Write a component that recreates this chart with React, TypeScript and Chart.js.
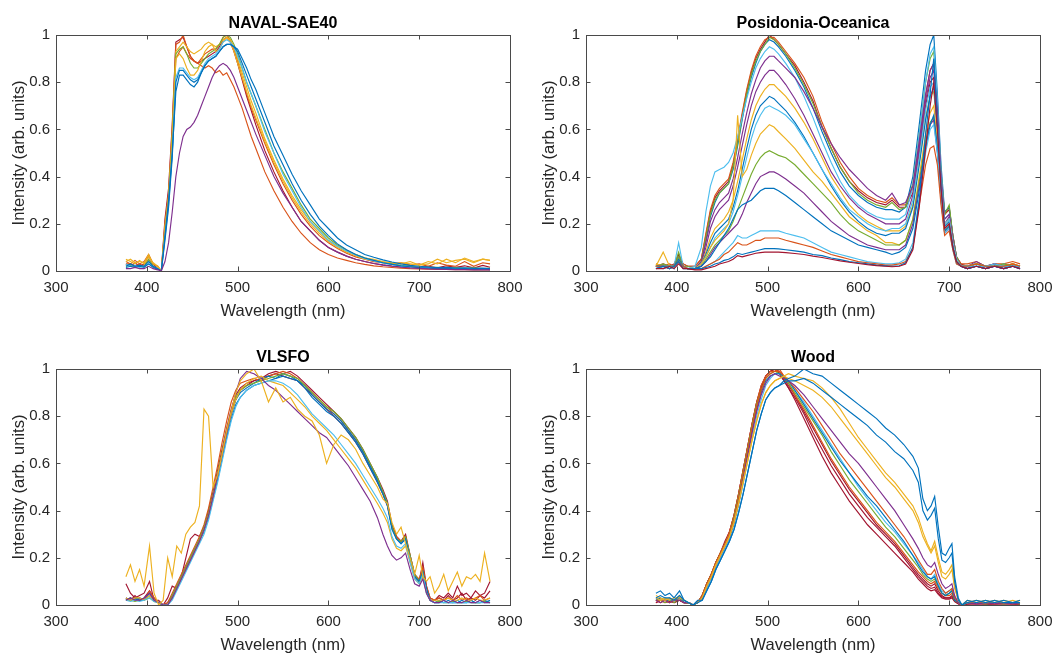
import React, { useEffect, useRef } from "react";
import { Chart, registerables } from "chart.js";

Chart.register(...registerables);

const BLUE = "#0072BD";
const ORANGE = "#D95319";
const YELLOW = "#EDB120";
const PURPLE = "#7E2F8E";
const GREEN = "#77AC30";
const CYAN = "#4DBEEE";
const RED = "#A2142F";

const X_TICKS = [300, 400, 500, 600, 700, 800];
const Y_TICKS = [0, 0.2, 0.4, 0.6, 0.8, 1];
const X_LABEL = "Wavelength (nm)";
const Y_LABEL = "Intensity (arb. units)";
const TITLES = ["NAVAL-SAE40", "Posidonia-Oceanica", "VLSFO", "Wood"];

// ---------------- NAVAL-SAE40 ----------------
const NAVAL_WL = [
  377, 382, 387, 392, 397, 402, 407, 412, 416, 420,
  424, 428, 432, 436, 440, 444, 448, 452, 456, 460,
  464, 468, 472, 476, 480, 484, 488, 492, 496, 500,
  505, 510, 515, 520, 530, 540, 550, 560, 570, 580,
  590, 600, 610, 620, 630, 640, 650, 660, 670, 680,
  690, 700, 710, 720, 730, 740, 750, 760, 770, 778];
const NAVAL_1 = [
  0.02, 0.03, 0.02, 0.025, 0.02, 0.04, 0.02, 0.01, 0.0, 0.15,
  0.3, 0.5, 0.76, 0.83, 0.83, 0.81, 0.79, 0.78, 0.8, 0.84,
  0.87, 0.89, 0.9, 0.91, 0.93, 0.95, 0.96, 0.96, 0.95, 0.93,
  0.88, 0.83, 0.78, 0.73, 0.63, 0.53, 0.45, 0.37, 0.3, 0.24,
  0.19, 0.15, 0.115, 0.09, 0.07, 0.055, 0.045, 0.035, 0.028, 0.022,
  0.018, 0.014, 0.012, 0.01, 0.012, 0.008, 0.01, 0.007, 0.009, 0.006];
const NAVAL_2 = [
  0.04, 0.03, 0.045, 0.03, 0.04, 0.07, 0.03, 0.02, 0.0, 0.2,
  0.33, 0.6, 0.96, 0.97, 1.0, 0.95, 0.91, 0.89, 0.88, 0.9,
  0.92, 0.93, 0.94, 0.94, 0.96, 0.99, 1.0, 0.98, 0.94, 0.89,
  0.82, 0.75, 0.69, 0.64, 0.54, 0.45, 0.37, 0.3, 0.24, 0.19,
  0.15, 0.12, 0.095, 0.075, 0.06, 0.05, 0.04, 0.035, 0.03, 0.035,
  0.025, 0.03, 0.02, 0.035, 0.025, 0.02, 0.04, 0.02, 0.035, 0.03];
const NAVAL_3 = [
  0.05, 0.04, 0.03, 0.045, 0.03, 0.06, 0.035, 0.02, 0.0, 0.18,
  0.3, 0.55, 0.9, 0.92, 0.9, 0.86, 0.83, 0.83, 0.85, 0.89,
  0.93, 0.95, 0.96, 0.93, 0.94, 0.97, 0.99, 0.98, 0.95, 0.9,
  0.84, 0.78, 0.72, 0.67, 0.56, 0.47, 0.39, 0.32, 0.26, 0.21,
  0.17, 0.13, 0.105, 0.085, 0.07, 0.055, 0.05, 0.04, 0.035, 0.03,
  0.04, 0.025, 0.03, 0.05, 0.035, 0.045, 0.05, 0.035, 0.05, 0.045];
const NAVAL_4 = [
  0.01, 0.01, 0.015, 0.01, 0.01, 0.02, 0.01, 0.005, 0.0, 0.04,
  0.12, 0.25, 0.4, 0.5, 0.57, 0.6, 0.61, 0.63, 0.66, 0.7,
  0.74, 0.78, 0.82, 0.85, 0.87, 0.88, 0.87, 0.85, 0.82, 0.78,
  0.73, 0.68, 0.63, 0.58, 0.49, 0.4, 0.33, 0.27, 0.21, 0.17,
  0.13, 0.1, 0.08, 0.063, 0.05, 0.04, 0.032, 0.025, 0.02, 0.016,
  0.013, 0.011, 0.009, 0.008, 0.007, 0.006, 0.006, 0.005, 0.005, 0.005];
const NAVAL_5 = [
  0.02, 0.025, 0.015, 0.02, 0.02, 0.05, 0.02, 0.01, 0.0, 0.17,
  0.31, 0.56, 0.92, 0.94, 0.95, 0.92, 0.88, 0.86, 0.86, 0.88,
  0.9, 0.92, 0.93, 0.94, 0.96, 0.99, 1.0, 0.99, 0.96, 0.92,
  0.86, 0.8, 0.75, 0.7, 0.6, 0.5, 0.42, 0.35, 0.28, 0.22,
  0.18, 0.14, 0.11, 0.088, 0.07, 0.056, 0.045, 0.036, 0.03, 0.024,
  0.02, 0.017, 0.015, 0.016, 0.012, 0.014, 0.011, 0.013, 0.01, 0.011];
const NAVAL_6 = [
  0.03, 0.02, 0.025, 0.015, 0.02, 0.03, 0.02, 0.01, 0.0, 0.14,
  0.28, 0.5, 0.82, 0.86, 0.86, 0.84, 0.82, 0.81, 0.82, 0.85,
  0.88, 0.9, 0.91, 0.92, 0.94, 0.97, 0.98, 0.97, 0.95, 0.91,
  0.86, 0.8, 0.75, 0.7, 0.59, 0.5, 0.41, 0.34, 0.27, 0.21,
  0.17, 0.13, 0.105, 0.085, 0.068, 0.053, 0.043, 0.034, 0.027, 0.022,
  0.017, 0.014, 0.016, 0.011, 0.013, 0.01, 0.009, 0.011, 0.008, 0.009];
const NAVAL_7 = [
  0.03, 0.02, 0.035, 0.02, 0.03, 0.065, 0.03, 0.01, 0.0, 0.22,
  0.35, 0.62, 0.97, 0.98, 0.99, 0.95, 0.91, 0.89, 0.88, 0.89,
  0.9, 0.91, 0.92, 0.93, 0.95, 0.98, 0.99, 0.97, 0.93, 0.88,
  0.81, 0.74, 0.68, 0.62, 0.51, 0.42, 0.34, 0.27, 0.21, 0.17,
  0.13, 0.1, 0.08, 0.063, 0.05, 0.04, 0.032, 0.026, 0.021, 0.017,
  0.022, 0.014, 0.02, 0.013, 0.022, 0.016, 0.022, 0.013, 0.024, 0.016];
const NAVAL_8 = [
  0.03, 0.03, 0.02, 0.03, 0.02, 0.05, 0.02, 0.01, 0.0, 0.18,
  0.3, 0.55, 0.9, 0.93, 0.95, 0.92, 0.9, 0.89, 0.88, 0.87,
  0.86, 0.87, 0.86, 0.84, 0.85, 0.83, 0.84, 0.81, 0.78, 0.74,
  0.69, 0.63, 0.57, 0.52, 0.42, 0.34, 0.27, 0.21, 0.16, 0.12,
  0.09, 0.07, 0.055, 0.045, 0.035, 0.028, 0.022, 0.018, 0.015, 0.012,
  0.01, 0.009, 0.008, 0.007, 0.007, 0.006, 0.006, 0.005, 0.005, 0.005];
const NAVAL_9 = [
  0.015, 0.02, 0.015, 0.02, 0.015, 0.03, 0.015, 0.008, 0.0, 0.13,
  0.27, 0.48, 0.8, 0.85, 0.85, 0.83, 0.81, 0.8, 0.81, 0.84,
  0.87, 0.89, 0.9, 0.91, 0.93, 0.95, 0.96, 0.96, 0.95, 0.94,
  0.9, 0.86, 0.81, 0.77, 0.67, 0.57, 0.49, 0.41, 0.34, 0.28,
  0.22, 0.18, 0.14, 0.11, 0.09, 0.07, 0.058, 0.047, 0.038, 0.03,
  0.024, 0.02, 0.017, 0.014, 0.016, 0.012, 0.013, 0.011, 0.012, 0.01];
const NAVAL_10 = [
  0.04, 0.05, 0.035, 0.04, 0.035, 0.07, 0.03, 0.02, 0.0, 0.19,
  0.32, 0.58, 0.93, 0.95, 0.97, 0.95, 0.93, 0.92, 0.93, 0.94,
  0.96, 0.97, 0.96, 0.95, 0.96, 0.98, 0.99, 0.97, 0.93, 0.88,
  0.82, 0.76, 0.7, 0.65, 0.55, 0.46, 0.38, 0.31, 0.25, 0.2,
  0.16, 0.125, 0.1, 0.08, 0.065, 0.05, 0.045, 0.038, 0.03, 0.035,
  0.03, 0.025, 0.04, 0.03, 0.05, 0.035, 0.055, 0.04, 0.05, 0.045];

// ---------------- Posidonia-Oceanica ----------------
const POS_WL = [
  377, 385, 392, 397, 402, 407, 412, 420, 427, 432,
  437, 442, 447, 452, 457, 462, 467, 472, 477, 482,
  487, 492, 497, 502, 507, 512, 520, 530, 540, 550,
  560, 570, 580, 590, 600, 610, 620, 630, 637, 645,
  652, 660, 667, 674, 679, 683, 687, 691, 695, 700,
  704, 708, 713, 720, 730, 740, 750, 760, 770, 778];
const POS_1 = [
  0.02, 0.03, 0.02, 0.03, 0.07, 0.03, 0.02, 0.02, 0.05, 0.15,
  0.25, 0.31, 0.34, 0.36, 0.38, 0.45, 0.55, 0.66, 0.76, 0.84,
  0.9, 0.94, 0.97, 1.0, 0.98, 0.96, 0.92, 0.87, 0.8, 0.72,
  0.61, 0.52, 0.44, 0.38, 0.34, 0.31, 0.29, 0.28, 0.3, 0.27,
  0.27, 0.33, 0.5, 0.7, 0.8, 0.82, 0.65, 0.4, 0.24, 0.26,
  0.15, 0.06, 0.03, 0.02, 0.03, 0.02, 0.03, 0.02, 0.03, 0.02];
const POS_2 = [
  0.01, 0.02, 0.01, 0.02, 0.05, 0.02, 0.01, 0.01, 0.04, 0.13,
  0.23, 0.29, 0.33, 0.35, 0.37, 0.43, 0.53, 0.64, 0.74, 0.82,
  0.88, 0.93, 0.96, 0.98, 0.97, 0.95, 0.91, 0.85, 0.78, 0.69,
  0.59, 0.5, 0.42, 0.36, 0.32, 0.29, 0.27, 0.26, 0.26, 0.25,
  0.27, 0.4, 0.62, 0.85, 0.96, 1.0, 0.75, 0.45, 0.25, 0.27,
  0.15, 0.06, 0.02, 0.01, 0.02, 0.01, 0.02, 0.01, 0.02, 0.01];
const POS_3 = [
  0.02, 0.02, 0.02, 0.02, 0.12, 0.02, 0.01, 0.02, 0.1, 0.25,
  0.36, 0.42, 0.43, 0.44, 0.46, 0.5, 0.57, 0.65, 0.73, 0.8,
  0.86, 0.9, 0.93, 0.95, 0.94, 0.92, 0.88, 0.82, 0.74, 0.65,
  0.55, 0.46, 0.38, 0.32, 0.28, 0.25, 0.23, 0.22, 0.22, 0.22,
  0.24, 0.36, 0.58, 0.8, 0.92, 0.95, 0.72, 0.42, 0.22, 0.24,
  0.13, 0.05, 0.02, 0.02, 0.03, 0.02, 0.02, 0.03, 0.02, 0.02];
const POS_4 = [
  0.02, 0.02, 0.02, 0.02, 0.06, 0.02, 0.01, 0.01, 0.04, 0.12,
  0.21, 0.26, 0.29, 0.31, 0.33, 0.39, 0.48, 0.58, 0.67, 0.75,
  0.81, 0.86, 0.89, 0.91, 0.91, 0.89, 0.86, 0.82, 0.76, 0.69,
  0.61, 0.54, 0.48, 0.43, 0.39, 0.35, 0.32, 0.3, 0.33, 0.28,
  0.29, 0.36, 0.55, 0.75, 0.85, 0.88, 0.68, 0.4, 0.22, 0.24,
  0.14, 0.05, 0.02, 0.02, 0.04, 0.02, 0.03, 0.02, 0.02, 0.02];
const POS_5 = [
  0.02, 0.01, 0.02, 0.01, 0.04, 0.02, 0.01, 0.01, 0.03, 0.1,
  0.18, 0.23, 0.26, 0.28, 0.3, 0.36, 0.44, 0.53, 0.62, 0.7,
  0.76, 0.8, 0.83, 0.85, 0.85, 0.83, 0.79, 0.73, 0.66, 0.58,
  0.5, 0.42, 0.36, 0.31, 0.27, 0.24, 0.22, 0.2, 0.2, 0.2,
  0.22, 0.32, 0.52, 0.72, 0.82, 0.85, 0.65, 0.38, 0.2, 0.23,
  0.12, 0.05, 0.02, 0.01, 0.02, 0.01, 0.02, 0.01, 0.02, 0.01];
const POS_6 = [
  0.03, 0.02, 0.02, 0.02, 0.05, 0.02, 0.01, 0.01, 0.03, 0.08,
  0.14, 0.18, 0.2, 0.22, 0.25, 0.3, 0.38, 0.47, 0.56, 0.64,
  0.7, 0.74, 0.77, 0.79, 0.79, 0.77, 0.74, 0.69, 0.63, 0.56,
  0.48, 0.4, 0.34, 0.28, 0.24, 0.21, 0.19, 0.17, 0.17, 0.17,
  0.19, 0.28, 0.46, 0.65, 0.74, 0.76, 0.6, 0.36, 0.2, 0.22,
  0.12, 0.05, 0.02, 0.02, 0.03, 0.02, 0.02, 0.02, 0.03, 0.02];
const POS_7 = [
  0.02, 0.02, 0.01, 0.02, 0.04, 0.02, 0.01, 0.01, 0.03, 0.07,
  0.12, 0.16, 0.18, 0.2, 0.22, 0.27, 0.34, 0.43, 0.52, 0.6,
  0.66, 0.7, 0.72, 0.74, 0.73, 0.71, 0.68, 0.63, 0.57, 0.5,
  0.43, 0.36, 0.3, 0.25, 0.21, 0.18, 0.16, 0.15, 0.16, 0.16,
  0.18, 0.27, 0.45, 0.64, 0.74, 0.78, 0.6, 0.36, 0.19, 0.21,
  0.11, 0.04, 0.02, 0.01, 0.02, 0.01, 0.02, 0.01, 0.02, 0.01];
const POS_8 = [
  0.02, 0.02, 0.02, 0.02, 0.05, 0.02, 0.01, 0.01, 0.03, 0.06,
  0.1, 0.14, 0.16, 0.18, 0.2, 0.25, 0.32, 0.4, 0.48, 0.56,
  0.62, 0.66, 0.69, 0.7, 0.69, 0.68, 0.66, 0.62, 0.56, 0.5,
  0.43, 0.37, 0.31, 0.26, 0.23, 0.2, 0.18, 0.17, 0.18, 0.18,
  0.2, 0.3, 0.48, 0.68, 0.78, 0.8, 0.62, 0.37, 0.2, 0.22,
  0.12, 0.05, 0.02, 0.02, 0.03, 0.02, 0.02, 0.02, 0.02, 0.02];
const POS_9 = [
  0.02, 0.08, 0.02, 0.02, 0.05, 0.02, 0.01, 0.01, 0.03, 0.06,
  0.1, 0.13, 0.15, 0.17, 0.2, 0.3, 0.66, 0.4, 0.43, 0.49,
  0.54, 0.58, 0.6, 0.62, 0.61, 0.59, 0.56, 0.52, 0.47, 0.42,
  0.38, 0.33, 0.28, 0.23, 0.2, 0.17, 0.15, 0.12, 0.12, 0.11,
  0.13, 0.22, 0.4, 0.58, 0.67, 0.7, 0.55, 0.33, 0.18, 0.2,
  0.1, 0.04, 0.02, 0.02, 0.03, 0.02, 0.02, 0.02, 0.03, 0.02];
const POS_10 = [
  0.02, 0.02, 0.02, 0.02, 0.06, 0.02, 0.01, 0.01, 0.02, 0.05,
  0.08, 0.11, 0.13, 0.15, 0.17, 0.21, 0.26, 0.31, 0.36, 0.41,
  0.45, 0.48, 0.5, 0.51, 0.5, 0.49, 0.48, 0.45, 0.41, 0.37,
  0.33, 0.29, 0.24, 0.2, 0.17, 0.15, 0.13, 0.11, 0.11, 0.11,
  0.13, 0.22, 0.38, 0.55, 0.63, 0.65, 0.52, 0.31, 0.17, 0.19,
  0.1, 0.04, 0.02, 0.02, 0.03, 0.02, 0.02, 0.03, 0.02, 0.02];
const POS_11 = [
  0.02, 0.02, 0.01, 0.02, 0.04, 0.02, 0.01, 0.01, 0.02, 0.04,
  0.07, 0.1, 0.12, 0.14, 0.16, 0.18, 0.2, 0.24, 0.29, 0.33,
  0.37, 0.4, 0.41, 0.42, 0.42, 0.41, 0.39, 0.36, 0.33, 0.29,
  0.25, 0.21, 0.18, 0.15, 0.13, 0.11, 0.1, 0.09, 0.09, 0.09,
  0.11, 0.2, 0.36, 0.53, 0.62, 0.64, 0.5, 0.3, 0.16, 0.18,
  0.1, 0.04, 0.02, 0.01, 0.02, 0.01, 0.02, 0.01, 0.02, 0.01];
const POS_12 = [
  0.02, 0.02, 0.02, 0.02, 0.05, 0.02, 0.01, 0.01, 0.02, 0.04,
  0.06, 0.09, 0.12, 0.15, 0.18, 0.22, 0.26, 0.28, 0.29, 0.3,
  0.32, 0.34, 0.35, 0.35, 0.35, 0.34, 0.32, 0.29, 0.26, 0.23,
  0.2, 0.17, 0.15, 0.13, 0.11, 0.1, 0.09, 0.08, 0.07, 0.08,
  0.1, 0.18, 0.34, 0.52, 0.62, 0.66, 0.52, 0.31, 0.17, 0.19,
  0.1, 0.04, 0.02, 0.02, 0.02, 0.02, 0.02, 0.02, 0.02, 0.02];
const POS_13 = [
  0.02, 0.01, 0.02, 0.01, 0.04, 0.02, 0.01, 0.01, 0.01, 0.02,
  0.03, 0.04, 0.06, 0.08, 0.1, 0.12, 0.15, 0.14, 0.14, 0.15,
  0.16, 0.17, 0.17, 0.17, 0.17, 0.17, 0.16, 0.15, 0.14, 0.12,
  0.1, 0.08, 0.07, 0.06, 0.05, 0.04, 0.035, 0.03, 0.03, 0.035,
  0.05, 0.12, 0.3, 0.5, 0.6, 0.62, 0.5, 0.3, 0.16, 0.18,
  0.09, 0.03, 0.02, 0.02, 0.02, 0.02, 0.03, 0.02, 0.02, 0.02];
const POS_14 = [
  0.02, 0.02, 0.01, 0.02, 0.04, 0.02, 0.01, 0.01, 0.01, 0.02,
  0.03, 0.04, 0.05, 0.07, 0.08, 0.1, 0.12, 0.11, 0.11, 0.12,
  0.13, 0.13, 0.14, 0.14, 0.14, 0.14, 0.13, 0.12, 0.11, 0.1,
  0.085, 0.07, 0.06, 0.05, 0.04, 0.035, 0.03, 0.025, 0.025, 0.03,
  0.04, 0.1, 0.28, 0.45, 0.52, 0.53, 0.45, 0.28, 0.15, 0.17,
  0.09, 0.03, 0.02, 0.02, 0.03, 0.02, 0.02, 0.02, 0.03, 0.02];
const POS_15 = [
  0.01, 0.02, 0.01, 0.02, 0.04, 0.01, 0.01, 0.01, 0.01, 0.015,
  0.02, 0.03, 0.035, 0.045, 0.05, 0.06, 0.075, 0.07, 0.075, 0.08,
  0.085, 0.09, 0.095, 0.095, 0.095, 0.094, 0.09, 0.085, 0.08, 0.07,
  0.065, 0.055, 0.048, 0.04, 0.035, 0.03, 0.025, 0.022, 0.02, 0.022,
  0.035, 0.1, 0.3, 0.58, 0.75, 0.9, 0.62, 0.36, 0.18, 0.2,
  0.1, 0.04, 0.02, 0.01, 0.02, 0.01, 0.02, 0.01, 0.02, 0.01];
const POS_16 = [
  0.01, 0.01, 0.02, 0.01, 0.03, 0.01, 0.01, 0.005, 0.005, 0.01,
  0.015, 0.02, 0.03, 0.035, 0.04, 0.05, 0.065, 0.06, 0.065, 0.07,
  0.075, 0.078, 0.08, 0.08, 0.08, 0.08, 0.078, 0.074, 0.07, 0.063,
  0.057, 0.05, 0.043, 0.037, 0.032, 0.027, 0.023, 0.02, 0.018, 0.02,
  0.03, 0.09, 0.27, 0.52, 0.7, 0.8, 0.6, 0.35, 0.18, 0.2,
  0.1, 0.04, 0.02, 0.01, 0.02, 0.01, 0.02, 0.01, 0.02, 0.01];
const POS_17 = [
  0.03, 0.02, 0.03, 0.02, 0.06, 0.03, 0.02, 0.02, 0.05, 0.16,
  0.26, 0.32, 0.35, 0.37, 0.39, 0.46, 0.56, 0.67, 0.77, 0.85,
  0.91, 0.95, 0.98, 0.99, 0.99, 0.97, 0.93, 0.88, 0.82, 0.74,
  0.63, 0.54, 0.46, 0.4, 0.35, 0.32, 0.3, 0.29, 0.31, 0.28,
  0.28, 0.35, 0.53, 0.74, 0.85, 0.88, 0.68, 0.41, 0.24, 0.27,
  0.15, 0.06, 0.03, 0.03, 0.04, 0.02, 0.03, 0.03, 0.04, 0.03];
const POS_18 = [
  0.02, 0.03, 0.02, 0.02, 0.08, 0.02, 0.02, 0.01, 0.04, 0.14,
  0.24, 0.3, 0.33, 0.35, 0.37, 0.44, 0.54, 0.65, 0.75, 0.83,
  0.89, 0.93, 0.96, 0.99, 0.98, 0.96, 0.92, 0.86, 0.79, 0.71,
  0.61, 0.52, 0.44, 0.38, 0.33, 0.3, 0.28, 0.27, 0.29, 0.26,
  0.27, 0.37, 0.58, 0.8, 0.9, 0.93, 0.7, 0.42, 0.24, 0.28,
  0.15, 0.06, 0.02, 0.02, 0.03, 0.02, 0.02, 0.02, 0.03, 0.02];

// ---------------- VLSFO ----------------
const VLSFO_WL = [
  377, 382, 387, 392, 397, 403, 408, 413, 418, 423,
  428, 433, 438, 443, 448, 453, 458, 463, 468, 473,
  478, 483, 488, 493, 498, 503, 510, 518, 526, 534,
  542, 550, 558, 566, 574, 582, 590, 598, 606, 614,
  622, 630, 638, 646, 654, 660, 665, 670, 675, 680,
  685, 690, 695, 700, 704, 708, 712, 717, 722, 727,
  732, 737, 742, 747, 752, 757, 762, 767, 772, 778];
const VLSFO_1 = [
  0.03, 0.02, 0.03, 0.02, 0.02, 0.04, 0.02, 0.01, 0.0, 0.0,
  0.03, 0.07, 0.11, 0.15, 0.19, 0.23, 0.27, 0.31, 0.37, 0.45,
  0.53, 0.62, 0.71, 0.79, 0.85, 0.88, 0.91, 0.93, 0.94, 0.95,
  0.96, 0.97, 0.96, 0.95, 0.92, 0.88, 0.85, 0.82, 0.8, 0.77,
  0.73, 0.69, 0.64, 0.58, 0.52, 0.47, 0.42, 0.32, 0.28, 0.26,
  0.28, 0.2, 0.12, 0.1, 0.14, 0.07, 0.02, 0.01, 0.01, 0.02,
  0.01, 0.01, 0.02, 0.01, 0.01, 0.02, 0.01, 0.02, 0.01, 0.02];
const VLSFO_2 = [
  0.02, 0.03, 0.02, 0.03, 0.02, 0.06, 0.03, 0.01, 0.0, 0.01,
  0.05, 0.09, 0.13, 0.17, 0.21, 0.25, 0.29, 0.34, 0.41, 0.5,
  0.59, 0.69, 0.78, 0.86, 0.91, 0.94, 0.95, 0.96, 0.95, 0.97,
  0.98, 0.99, 0.98, 0.96, 0.93, 0.9, 0.87, 0.84, 0.81, 0.78,
  0.74, 0.7, 0.65, 0.59, 0.53, 0.48, 0.43, 0.33, 0.29, 0.27,
  0.29, 0.21, 0.13, 0.11, 0.16, 0.08, 0.03, 0.02, 0.03, 0.02,
  0.03, 0.02, 0.04, 0.02, 0.03, 0.02, 0.03, 0.04, 0.02, 0.03];
const VLSFO_3 = [
  0.12, 0.17, 0.1, 0.15, 0.08, 0.25, 0.05, 0.0, 0.02, 0.2,
  0.12, 0.25, 0.22, 0.3, 0.33, 0.35, 0.42, 0.83, 0.8, 0.5,
  0.55, 0.64, 0.74, 0.82, 0.9, 0.95, 0.98, 1.0, 0.95, 0.86,
  0.92, 0.86, 0.88, 0.83, 0.8, 0.78, 0.72, 0.6, 0.68, 0.72,
  0.7, 0.66, 0.6, 0.55, 0.5, 0.45, 0.43, 0.35, 0.3, 0.33,
  0.26, 0.2, 0.13, 0.21, 0.12, 0.1, 0.12, 0.05, 0.08, 0.13,
  0.06, 0.1, 0.14, 0.08, 0.12, 0.11, 0.13, 0.1, 0.22, 0.1];
const VLSFO_4 = [
  0.02, 0.03, 0.02, 0.02, 0.03, 0.05, 0.02, 0.01, 0.0, 0.0,
  0.03, 0.07, 0.11, 0.15, 0.19, 0.23, 0.27, 0.32, 0.38, 0.46,
  0.55, 0.64, 0.73, 0.82, 0.9, 0.96, 0.99, 0.98, 0.96, 0.93,
  0.91, 0.88, 0.85, 0.82, 0.79, 0.76, 0.73, 0.71, 0.67, 0.63,
  0.59, 0.54, 0.49, 0.44, 0.37, 0.3, 0.25, 0.21, 0.19, 0.2,
  0.22, 0.15, 0.09, 0.08, 0.11, 0.05, 0.02, 0.01, 0.01, 0.02,
  0.01, 0.02, 0.01, 0.01, 0.02, 0.01, 0.01, 0.02, 0.01, 0.01];
const VLSFO_5 = [
  0.02, 0.02, 0.015, 0.02, 0.02, 0.03, 0.015, 0.01, 0.0, 0.0,
  0.04, 0.08, 0.12, 0.16, 0.2, 0.24, 0.28, 0.33, 0.39, 0.47,
  0.56, 0.65, 0.74, 0.82, 0.88, 0.91, 0.93, 0.94, 0.95, 0.96,
  0.97, 0.98, 0.97, 0.96, 0.93, 0.9, 0.87, 0.84, 0.82, 0.79,
  0.75, 0.71, 0.66, 0.6, 0.54, 0.48, 0.43, 0.33, 0.28, 0.27,
  0.29, 0.21, 0.13, 0.1, 0.14, 0.06, 0.02, 0.01, 0.015, 0.01,
  0.01, 0.015, 0.01, 0.01, 0.015, 0.01, 0.01, 0.01, 0.015, 0.01];
const VLSFO_6 = [
  0.02, 0.015, 0.02, 0.015, 0.02, 0.03, 0.015, 0.01, 0.0, 0.0,
  0.02, 0.06, 0.1, 0.14, 0.18, 0.22, 0.26, 0.3, 0.36, 0.44,
  0.52, 0.61, 0.7, 0.78, 0.84, 0.88, 0.91, 0.93, 0.94, 0.95,
  0.95, 0.94, 0.92, 0.89, 0.85, 0.81, 0.78, 0.75, 0.72, 0.68,
  0.64, 0.6, 0.55, 0.5, 0.45, 0.41, 0.37, 0.29, 0.25, 0.24,
  0.26, 0.18, 0.11, 0.09, 0.13, 0.05, 0.02, 0.01, 0.01, 0.01,
  0.01, 0.01, 0.01, 0.01, 0.01, 0.01, 0.01, 0.01, 0.01, 0.01];
const VLSFO_7 = [
  0.09, 0.05, 0.03, 0.04, 0.05, 0.1, 0.02, 0.02, 0.0, 0.03,
  0.08, 0.07, 0.12, 0.2, 0.28, 0.3, 0.29, 0.33, 0.39, 0.46,
  0.55, 0.64, 0.73, 0.81, 0.87, 0.91, 0.93, 0.95, 0.96, 0.97,
  0.98, 0.97, 0.96, 0.95, 0.92, 0.89, 0.86, 0.83, 0.8, 0.77,
  0.73, 0.69, 0.64, 0.58, 0.52, 0.47, 0.42, 0.33, 0.29, 0.27,
  0.29, 0.2, 0.12, 0.1, 0.18, 0.08, 0.03, 0.02, 0.04, 0.03,
  0.05, 0.03, 0.08, 0.04, 0.05, 0.03, 0.06, 0.04, 0.05, 0.1];
const VLSFO_8 = [
  0.02, 0.03, 0.02, 0.03, 0.02, 0.05, 0.02, 0.01, 0.0, 0.0,
  0.03, 0.07, 0.11, 0.15, 0.19, 0.23, 0.27, 0.32, 0.38, 0.46,
  0.55, 0.64, 0.73, 0.81, 0.87, 0.9, 0.92, 0.94, 0.96, 0.97,
  0.96, 0.98, 0.97, 0.95, 0.93, 0.89, 0.86, 0.83, 0.81, 0.78,
  0.74, 0.7, 0.65, 0.59, 0.53, 0.48, 0.43, 0.33, 0.28, 0.26,
  0.28, 0.2, 0.12, 0.1, 0.14, 0.06, 0.02, 0.01, 0.02, 0.01,
  0.02, 0.01, 0.01, 0.02, 0.01, 0.02, 0.01, 0.01, 0.02, 0.01];
const VLSFO_9 = [
  0.03, 0.02, 0.04, 0.02, 0.03, 0.06, 0.03, 0.01, 0.0, 0.01,
  0.04, 0.08, 0.12, 0.16, 0.2, 0.24, 0.28, 0.33, 0.4, 0.48,
  0.57, 0.66, 0.75, 0.83, 0.89, 0.92, 0.94, 0.95, 0.96, 0.98,
  0.99, 0.98, 0.99, 0.97, 0.94, 0.91, 0.88, 0.85, 0.82, 0.79,
  0.75, 0.71, 0.66, 0.6, 0.54, 0.49, 0.44, 0.34, 0.29, 0.27,
  0.3, 0.21, 0.13, 0.1, 0.15, 0.07, 0.02, 0.02, 0.03, 0.02,
  0.04, 0.02, 0.03, 0.05, 0.02, 0.03, 0.02, 0.04, 0.03, 0.06];
const VLSFO_10 = [
  0.03, 0.02, 0.03, 0.03, 0.02, 0.04, 0.02, 0.01, 0.0, 0.0,
  0.03, 0.07, 0.11, 0.15, 0.19, 0.23, 0.27, 0.32, 0.38, 0.46,
  0.55, 0.64, 0.73, 0.81, 0.87, 0.91, 0.94, 0.96, 0.97, 0.95,
  0.94, 0.93, 0.9, 0.87, 0.84, 0.8, 0.77, 0.74, 0.7, 0.66,
  0.62, 0.58, 0.53, 0.48, 0.43, 0.39, 0.35, 0.28, 0.24, 0.23,
  0.25, 0.18, 0.11, 0.09, 0.12, 0.05, 0.02, 0.02, 0.02, 0.02,
  0.03, 0.02, 0.02, 0.03, 0.02, 0.02, 0.03, 0.02, 0.02, 0.03];

// ---------------- Wood ----------------
const WOOD_WL = [
  377, 382, 387, 392, 397, 403, 408, 413, 418, 423,
  428, 433, 438, 443, 448, 453, 458, 463, 468, 473,
  478, 483, 488, 493, 498, 503, 508, 513, 518, 523,
  530, 540, 550, 560, 570, 580, 590, 600, 610, 620,
  630, 640, 650, 660, 666, 671, 676, 680, 684, 688,
  692, 696, 700, 703, 706, 710, 714, 720, 730, 740,
  750, 760, 770, 778];
const WOOD_1 = [
  0.01, 0.02, 0.01, 0.015, 0.01, 0.02, 0.01, 0.01, 0.0, 0.01,
  0.04, 0.09, 0.13, 0.18, 0.22, 0.26, 0.3, 0.37, 0.46, 0.56,
  0.66, 0.76, 0.85, 0.92, 0.97, 0.99, 1.0, 0.98, 0.95, 0.92,
  0.87, 0.79, 0.71, 0.63, 0.56, 0.5, 0.44, 0.39, 0.34, 0.3,
  0.26, 0.22, 0.18, 0.14, 0.11, 0.09, 0.07, 0.06, 0.065, 0.045,
  0.03, 0.025, 0.025, 0.03, 0.015, 0.005, 0.0, 0.005, 0.005, 0.005,
  0.005, 0.005, 0.005, 0.005];
const WOOD_2 = [
  0.02, 0.01, 0.02, 0.01, 0.02, 0.03, 0.01, 0.01, 0.0, 0.01,
  0.04, 0.09, 0.13, 0.18, 0.22, 0.26, 0.31, 0.38, 0.47, 0.57,
  0.67, 0.77, 0.86, 0.93, 0.97, 0.99, 0.99, 1.0, 0.97, 0.94,
  0.89, 0.83, 0.76, 0.69, 0.62, 0.56, 0.5, 0.45, 0.4, 0.35,
  0.31, 0.27, 0.22, 0.17, 0.14, 0.12, 0.1, 0.09, 0.1, 0.07,
  0.05, 0.04, 0.04, 0.05, 0.02, 0.01, 0.0, 0.01, 0.01, 0.01,
  0.005, 0.01, 0.005, 0.01];
const WOOD_3 = [
  0.04, 0.03, 0.02, 0.03, 0.02, 0.04, 0.02, 0.01, 0.0, 0.01,
  0.03, 0.08, 0.12, 0.17, 0.21, 0.25, 0.29, 0.35, 0.43, 0.52,
  0.61, 0.7, 0.78, 0.85, 0.9, 0.93, 0.95, 0.96, 0.97, 0.98,
  0.97, 0.96, 0.95, 0.92, 0.88, 0.83, 0.77, 0.71, 0.66, 0.61,
  0.56, 0.52, 0.47, 0.42, 0.37, 0.31, 0.26, 0.23, 0.27, 0.2,
  0.14, 0.13, 0.15, 0.17, 0.08, 0.02, 0.0, 0.02, 0.01, 0.02,
  0.01, 0.02, 0.01, 0.02];
const WOOD_4 = [
  0.03, 0.02, 0.03, 0.02, 0.03, 0.03, 0.02, 0.01, 0.0, 0.01,
  0.03, 0.08, 0.12, 0.17, 0.21, 0.25, 0.29, 0.35, 0.43, 0.52,
  0.61, 0.7, 0.78, 0.85, 0.9, 0.93, 0.95, 0.96, 0.97, 0.96,
  0.95, 0.93, 0.91, 0.88, 0.84, 0.79, 0.74, 0.69, 0.64, 0.59,
  0.54, 0.5, 0.45, 0.4, 0.35, 0.29, 0.25, 0.22, 0.25, 0.18,
  0.12, 0.11, 0.13, 0.15, 0.07, 0.02, 0.0, 0.01, 0.02, 0.01,
  0.02, 0.01, 0.02, 0.01];
const WOOD_5 = [
  0.05, 0.06, 0.04, 0.05, 0.03, 0.06, 0.02, 0.01, 0.0, 0.02,
  0.02, 0.06, 0.1, 0.15, 0.19, 0.23, 0.27, 0.32, 0.39, 0.47,
  0.56, 0.65, 0.74, 0.81, 0.87, 0.9, 0.92, 0.93, 0.95, 0.96,
  0.97, 1.0, 0.98, 0.97, 0.94, 0.91, 0.88, 0.85, 0.82, 0.79,
  0.75, 0.72, 0.68, 0.63, 0.58, 0.45, 0.4, 0.42, 0.46, 0.33,
  0.22, 0.21, 0.24, 0.26, 0.12, 0.03, 0.0, 0.02, 0.01, 0.02,
  0.01, 0.02, 0.01, 0.02];
const WOOD_6 = [
  0.03, 0.04, 0.03, 0.03, 0.02, 0.04, 0.02, 0.01, 0.0, 0.01,
  0.02, 0.06, 0.1, 0.15, 0.19, 0.23, 0.27, 0.32, 0.39, 0.47,
  0.56, 0.65, 0.74, 0.81, 0.87, 0.9, 0.92, 0.93, 0.94, 0.95,
  0.95, 0.96, 0.94, 0.91, 0.88, 0.85, 0.82, 0.79, 0.76, 0.72,
  0.69, 0.65, 0.62, 0.57, 0.52, 0.4, 0.36, 0.38, 0.41, 0.28,
  0.19, 0.18, 0.2, 0.22, 0.1, 0.02, 0.0, 0.01, 0.02, 0.01,
  0.02, 0.01, 0.01, 0.01];
const WOOD_7 = [
  0.02, 0.01, 0.02, 0.01, 0.02, 0.02, 0.01, 0.01, 0.0, 0.01,
  0.03, 0.08, 0.12, 0.17, 0.21, 0.25, 0.29, 0.35, 0.43, 0.53,
  0.63, 0.73, 0.82, 0.89, 0.94, 0.97, 0.98, 0.97, 0.96, 0.95,
  0.93, 0.89, 0.84, 0.79, 0.74, 0.69, 0.64, 0.6, 0.55, 0.5,
  0.45, 0.4, 0.34, 0.28, 0.24, 0.2, 0.17, 0.16, 0.18, 0.13,
  0.09, 0.07, 0.08, 0.09, 0.04, 0.01, 0.0, 0.01, 0.005, 0.01,
  0.005, 0.01, 0.005, 0.01];
const WOOD_8 = [
  0.02, 0.02, 0.01, 0.02, 0.01, 0.03, 0.01, 0.01, 0.0, 0.01,
  0.04, 0.09, 0.13, 0.18, 0.22, 0.26, 0.3, 0.37, 0.46, 0.56,
  0.66, 0.76, 0.85, 0.91, 0.96, 0.98, 0.99, 0.98, 0.96, 0.94,
  0.9, 0.84, 0.78, 0.72, 0.65, 0.59, 0.53, 0.48, 0.43, 0.38,
  0.33, 0.29, 0.24, 0.19, 0.16, 0.13, 0.11, 0.1, 0.11, 0.08,
  0.05, 0.04, 0.05, 0.06, 0.02, 0.01, 0.0, 0.01, 0.01, 0.005,
  0.01, 0.005, 0.01, 0.005];
const WOOD_9 = [
  0.03, 0.02, 0.02, 0.03, 0.02, 0.03, 0.02, 0.01, 0.0, 0.01,
  0.03, 0.07, 0.11, 0.16, 0.2, 0.24, 0.28, 0.34, 0.42, 0.51,
  0.61, 0.71, 0.8, 0.87, 0.93, 0.96, 0.98, 0.98, 0.97, 0.95,
  0.91, 0.86, 0.8, 0.74, 0.68, 0.62, 0.56, 0.5, 0.45, 0.4,
  0.35, 0.31, 0.26, 0.21, 0.18, 0.15, 0.12, 0.11, 0.13, 0.09,
  0.06, 0.05, 0.06, 0.07, 0.03, 0.01, 0.0, 0.01, 0.01, 0.01,
  0.01, 0.01, 0.01, 0.01];
const WOOD_10 = [
  0.02, 0.01, 0.02, 0.02, 0.01, 0.02, 0.01, 0.01, 0.0, 0.01,
  0.04, 0.09, 0.13, 0.18, 0.22, 0.27, 0.31, 0.38, 0.47, 0.57,
  0.67, 0.77, 0.86, 0.93, 0.97, 0.99, 1.0, 0.98, 0.95, 0.92,
  0.88, 0.81, 0.73, 0.66, 0.59, 0.53, 0.47, 0.42, 0.37, 0.33,
  0.29, 0.25, 0.2, 0.15, 0.12, 0.1, 0.08, 0.07, 0.075, 0.05,
  0.035, 0.03, 0.03, 0.035, 0.015, 0.005, 0.0, 0.005, 0.005, 0.005,
  0.005, 0.005, 0.005, 0.005];
const WOOD_11 = [
  0.02, 0.02, 0.02, 0.01, 0.02, 0.02, 0.01, 0.01, 0.0, 0.01,
  0.04, 0.09, 0.13, 0.18, 0.22, 0.26, 0.3, 0.36, 0.45, 0.55,
  0.65, 0.75, 0.84, 0.91, 0.96, 0.98, 0.99, 0.99, 0.97, 0.95,
  0.92, 0.87, 0.82, 0.76, 0.7, 0.64, 0.59, 0.54, 0.49, 0.44,
  0.39, 0.34, 0.29, 0.23, 0.19, 0.16, 0.13, 0.13, 0.15, 0.1,
  0.07, 0.05, 0.06, 0.07, 0.03, 0.01, 0.0, 0.01, 0.01, 0.01,
  0.005, 0.01, 0.005, 0.01];
const WOOD_12 = [
  0.02, 0.03, 0.02, 0.02, 0.02, 0.03, 0.01, 0.01, 0.0, 0.01,
  0.03, 0.08, 0.12, 0.17, 0.21, 0.25, 0.29, 0.35, 0.44, 0.54,
  0.64, 0.74, 0.83, 0.9, 0.95, 0.97, 0.98, 0.98, 0.97, 0.95,
  0.91, 0.85, 0.79, 0.73, 0.67, 0.61, 0.56, 0.51, 0.46, 0.42,
  0.37, 0.32, 0.27, 0.21, 0.17, 0.14, 0.12, 0.11, 0.12, 0.08,
  0.05, 0.04, 0.05, 0.06, 0.02, 0.01, 0.0, 0.01, 0.01, 0.01,
  0.01, 0.01, 0.01, 0.01];
const WOOD_13 = [
  0.01, 0.02, 0.02, 0.01, 0.02, 0.02, 0.01, 0.01, 0.0, 0.01,
  0.04, 0.09, 0.13, 0.18, 0.22, 0.26, 0.31, 0.38, 0.47, 0.57,
  0.67, 0.77, 0.86, 0.92, 0.97, 0.99, 1.0, 0.99, 0.96, 0.93,
  0.89, 0.82, 0.75, 0.68, 0.61, 0.55, 0.49, 0.44, 0.39, 0.34,
  0.3, 0.26, 0.21, 0.16, 0.13, 0.11, 0.09, 0.08, 0.09, 0.06,
  0.04, 0.03, 0.03, 0.04, 0.02, 0.005, 0.0, 0.005, 0.01, 0.005,
  0.005, 0.01, 0.005, 0.005];

type Series = { color: string; values: number[] };
type Area = { left: number; top: number; right: number; bottom: number };
type Panel = { title: string; wl: number[]; series: Series[]; area: Area };

const PANELS: Panel[] = [
  {
    title: TITLES[0],
    wl: NAVAL_WL,
    area: { left: 56, top: 35, right: 510, bottom: 271 },
    series: [
      { color: PURPLE, values: NAVAL_4 },
      { color: BLUE, values: NAVAL_9 },
      { color: BLUE, values: NAVAL_1 },
      { color: CYAN, values: NAVAL_6 },
      { color: YELLOW, values: NAVAL_3 },
      { color: GREEN, values: NAVAL_5 },
      { color: YELLOW, values: NAVAL_10 },
      { color: ORANGE, values: NAVAL_8 },
      { color: ORANGE, values: NAVAL_2 },
      { color: RED, values: NAVAL_7 },
    ],
  },
  {
    title: TITLES[1],
    wl: POS_WL,
    area: { left: 586, top: 35, right: 1040, bottom: 271 },
    series: [
      { color: RED, values: POS_16 },
      { color: BLUE, values: POS_15 },
      { color: ORANGE, values: POS_14 },
      { color: CYAN, values: POS_13 },
      { color: BLUE, values: POS_12 },
      { color: PURPLE, values: POS_11 },
      { color: GREEN, values: POS_10 },
      { color: YELLOW, values: POS_9 },
      { color: CYAN, values: POS_8 },
      { color: BLUE, values: POS_7 },
      { color: YELLOW, values: POS_6 },
      { color: PURPLE, values: POS_5 },
      { color: PURPLE, values: POS_4 },
      { color: CYAN, values: POS_3 },
      { color: GREEN, values: POS_18 },
      { color: BLUE, values: POS_2 },
      { color: ORANGE, values: POS_17 },
      { color: RED, values: POS_1 },
    ],
  },
  {
    title: TITLES[2],
    wl: VLSFO_WL,
    area: { left: 56, top: 369, right: 510, bottom: 605 },
    series: [
      { color: YELLOW, values: VLSFO_3 },
      { color: PURPLE, values: VLSFO_4 },
      { color: CYAN, values: VLSFO_6 },
      { color: YELLOW, values: VLSFO_10 },
      { color: BLUE, values: VLSFO_1 },
      { color: GREEN, values: VLSFO_5 },
      { color: BLUE, values: VLSFO_8 },
      { color: ORANGE, values: VLSFO_2 },
      { color: RED, values: VLSFO_9 },
      { color: RED, values: VLSFO_7 },
    ],
  },
  {
    title: TITLES[3],
    wl: WOOD_WL,
    area: { left: 586, top: 369, right: 1040, bottom: 605 },
    series: [
      { color: BLUE, values: WOOD_5 },
      { color: BLUE, values: WOOD_6 },
      { color: YELLOW, values: WOOD_3 },
      { color: YELLOW, values: WOOD_4 },
      { color: PURPLE, values: WOOD_7 },
      { color: ORANGE, values: WOOD_11 },
      { color: BLUE, values: WOOD_12 },
      { color: CYAN, values: WOOD_9 },
      { color: GREEN, values: WOOD_8 },
      { color: ORANGE, values: WOOD_2 },
      { color: RED, values: WOOD_13 },
      { color: RED, values: WOOD_10 },
      { color: RED, values: WOOD_1 },
    ],
  },
];

const W = 1062;
const H = 653;
const Y_AXIS_W = 50;
const X_AXIS_H = 30;
const FONT = "'Liberation Sans', Arial, Helvetica, sans-serif";
const TEXT_COLOR = "#262626";
const AXIS_COLOR = "#4a4a4a";
const TICK_LEN = 4.5;

function makeDeco(title: string) {
  return {
    id: "deco-" + title,
    afterDraw(chart: any) {
      const { ctx, chartArea: a, scales } = chart;
      const xs = scales.x;
      const ys = scales.y;
      ctx.save();
      ctx.strokeStyle = AXIS_COLOR;
      ctx.lineWidth = 1;
      ctx.strokeRect(a.left + 0.5, a.top + 0.5, a.right - a.left, a.bottom - a.top);
      ctx.beginPath();
      for (const v of X_TICKS) {
        const px = Math.round(xs.getPixelForValue(v)) + 0.5;
        ctx.moveTo(px, a.bottom);
        ctx.lineTo(px, a.bottom - TICK_LEN);
        ctx.moveTo(px, a.top);
        ctx.lineTo(px, a.top + TICK_LEN);
      }
      for (const v of Y_TICKS) {
        const py = Math.round(ys.getPixelForValue(v)) + 0.5;
        ctx.moveTo(a.left, py);
        ctx.lineTo(a.left + TICK_LEN, py);
        ctx.moveTo(a.right, py);
        ctx.lineTo(a.right - TICK_LEN, py);
      }
      ctx.stroke();

      const cx = (a.left + a.right) / 2;
      const cy = (a.top + a.bottom) / 2;
      ctx.fillStyle = "#000";
      ctx.textAlign = "center";
      ctx.textBaseline = "alphabetic";
      ctx.font = `bold 16px ${FONT}`;
      ctx.fillText(title, cx, a.top - 7);

      ctx.fillStyle = TEXT_COLOR;
      ctx.font = `16.5px ${FONT}`;
      ctx.fillText(X_LABEL, cx, a.bottom + 44.5);

      ctx.save();
      ctx.translate(a.left - 32, cy);
      ctx.rotate(-Math.PI / 2);
      ctx.fillText(Y_LABEL, 0, 0);
      ctx.restore();
      ctx.restore();
    },
  };
}

function zeroPad(s: any) {
  s.paddingLeft = 0;
  s.paddingRight = 0;
  s.paddingTop = 0;
  s.paddingBottom = 0;
}

function makeChart(canvas: HTMLCanvasElement, panel: Panel) {
  const { area } = panel;
  return new Chart(canvas, {
    type: "line",
    data: {
      datasets: panel.series.map((s) => ({
        data: panel.wl.map((x, i) => ({ x, y: s.values[i] })),
        borderColor: s.color,
        borderWidth: 1.15,
        pointRadius: 0,
        fill: false,
        tension: 0,
      })),
    },
    options: {
      responsive: false,
      animation: false,
      events: [],
      layout: {
        padding: {
          left: area.left - Y_AXIS_W,
          top: area.top,
          right: W - area.right,
          bottom: H - area.bottom - X_AXIS_H,
        },
      },
      plugins: {
        legend: { display: false },
        tooltip: { enabled: false },
        title: { display: false },
      },
      scales: {
        x: {
          type: "linear",
          min: 300,
          max: 800,
          afterBuildTicks: (s: any) => {
            s.ticks = X_TICKS.map((v) => ({ value: v }));
          },
          afterFit: (s: any) => {
            s.height = X_AXIS_H;
            zeroPad(s);
          },
          grid: { display: false, drawTicks: false },
          border: { display: false },
          ticks: {
            color: TEXT_COLOR,
            font: { family: FONT, size: 15 },
            padding: 8,
            maxRotation: 0,
            autoSkip: false,
            callback: (v: any) => String(v),
          },
        },
        y: {
          type: "linear",
          min: 0,
          max: 1,
          afterBuildTicks: (s: any) => {
            s.ticks = Y_TICKS.map((v) => ({ value: v }));
          },
          afterFit: (s: any) => {
            s.width = Y_AXIS_W;
            zeroPad(s);
          },
          grid: { display: false, drawTicks: false },
          border: { display: false },
          ticks: {
            color: TEXT_COLOR,
            font: { family: FONT, size: 15 },
            padding: 6,
            autoSkip: false,
            callback: (v: any) => String(Math.round(Number(v) * 10) / 10),
          },
        },
      },
    } as any,
    plugins: [makeDeco(panel.title)],
  });
}

export default function App() {
  const refs = [
    useRef<HTMLCanvasElement>(null),
    useRef<HTMLCanvasElement>(null),
    useRef<HTMLCanvasElement>(null),
    useRef<HTMLCanvasElement>(null),
  ];

  useEffect(() => {
    const charts = PANELS.map((p, i) => makeChart(refs[i].current as HTMLCanvasElement, p));
    return () => charts.forEach((c) => c.destroy());
  }, []);

  return (
    <div
      style={{
        position: "absolute",
        left: 0,
        top: 0,
        width: W,
        height: H,
        background: "#fff",
        overflow: "hidden",
      }}
    >
      {PANELS.map((p, i) => (
        <canvas
          key={p.title}
          ref={refs[i]}
          width={W}
          height={H}
          style={{ position: "absolute", left: 0, top: 0, width: W, height: H }}
        />
      ))}
    </div>
  );
}
